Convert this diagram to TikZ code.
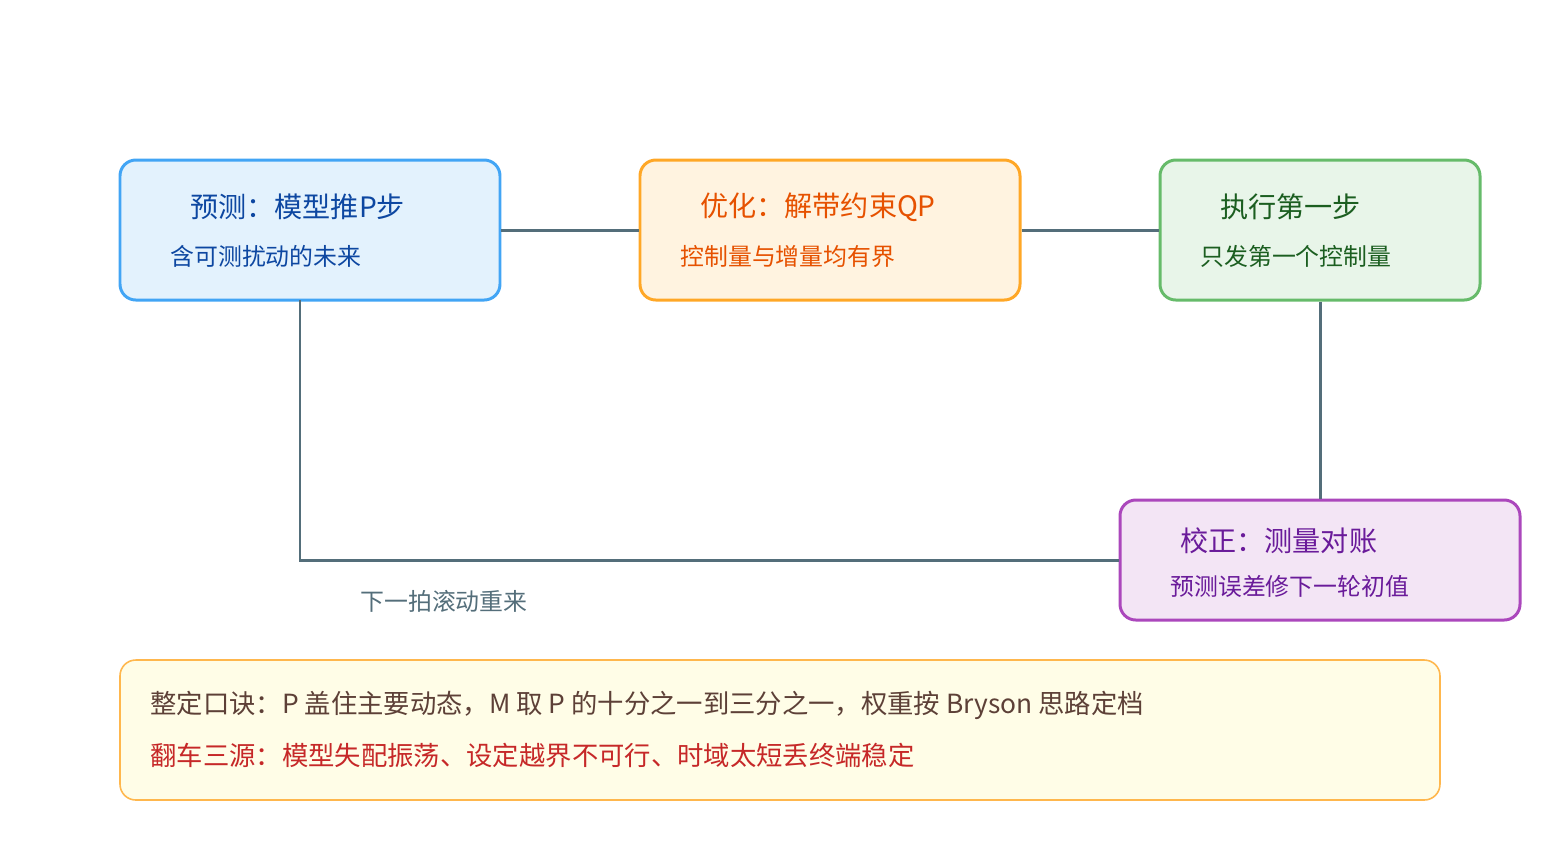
\documentclass[tikz,border=0pt]{standalone}
\usepackage{fontspec}
\setmainfont{Noto Sans CJK SC}
\usetikzlibrary{positioning}
\definecolor{link}{HTML}{546E7A}
\definecolor{predD}{HTML}{42A5F5}\definecolor{predF}{HTML}{E3F2FD}\definecolor{predT}{HTML}{0D47A1}
\definecolor{optD}{HTML}{FFA726}\definecolor{optF}{HTML}{FFF3E0}\definecolor{optT}{HTML}{E65100}
\definecolor{execD}{HTML}{66BB6A}\definecolor{execF}{HTML}{E8F5E9}\definecolor{execT}{HTML}{1B5E20}
\definecolor{corrD}{HTML}{AB47BC}\definecolor{corrF}{HTML}{F3E5F5}\definecolor{corrT}{HTML}{6A1B9A}
\definecolor{noteD}{HTML}{FFB74D}\definecolor{noteF}{HTML}{FFFDE7}
\definecolor{tipA}{HTML}{5D4037}\definecolor{tipB}{HTML}{C62828}
\tikzset{
  box/.style={draw, line width=1.7pt, rounded corners=9pt, minimum width=380*0.02cm, minimum height=140*0.02cm, inner sep=0pt},
  ttl/.style={anchor=west, inner sep=0pt, font=\fontsize{16}{19}\selectfont},
  sub/.style={anchor=west, inner sep=0pt, font=\fontsize{13.6}{16}\selectfont},
  wire/.style={draw=link, line width=1.7pt}
}
\begin{document}
\begin{tikzpicture}[x=0.02cm,y=-0.02cm]
\useasboundingbox (0,0) rectangle (1560,840);
% boxes
\node[box, draw=predD, fill=predF] (pred) at (310,230) {};
\node[box, draw=optD, fill=optF] (opt) at (830,230) {};
\node[box, draw=execD, fill=execF, minimum width=320*0.02cm] (exec) at (1320,230) {};
\node[box, draw=corrD, fill=corrF, minimum width=400*0.02cm, minimum height=120*0.02cm] (corr) at (1320,560) {};
\node[draw=noteD, fill=noteF, line width=0.9pt, rounded corners=9pt, minimum width=1320*0.02cm, minimum height=140*0.02cm] (note) at (780,730) {};
\coordinate (predFoot) at (300,300);
% texts
\node[ttl, text=predT] (predA) at (190,207) {预测：模型推P步};
\node[sub, text=predT] (predB) at (170,256) {含可测扰动的未来};
\node[ttl, text=optT] (optA) at (700,207) {优化：解带约束QP};
\node[sub, text=optT] (optB) at (680,256) {控制量与增量均有界};
\node[ttl, text=execT] (execA) at (1220,207) {执行第一步};
\node[sub, text=execT] (execB) at (1200,256) {只发第一个控制量};
\node[ttl, text=corrT] (corrA) at (1180,541) {校正：测量对账};
\node[sub, text=corrT] (corrB) at (1170,586) {预测误差修下一轮初值};
\node[sub, text=link] (loop) at (360,601) {下一拍滚动重来};
\node[sub, text=tipA, font=\fontsize{15}{18}\selectfont] (tip1) at (150,705) {整定口诀：P 盖住主要动态，M 取 P 的十分之一到三分之一，权重按 Bryson 思路定档};
\node[sub, text=tipB, font=\fontsize{15}{18}\selectfont] (tip2) at (150,755) {翻车三源：模型失配振荡、设定越界不可行、时域太短丢终端稳定};
% connectors
\draw[wire] (pred.east) -- (opt.west);
\draw[wire] (opt.east) -- (exec.west);
\draw[wire] (exec.south) -- (corr.north);
\draw[wire] (corr.west) -| (predFoot);
\end{tikzpicture}
\end{document}
